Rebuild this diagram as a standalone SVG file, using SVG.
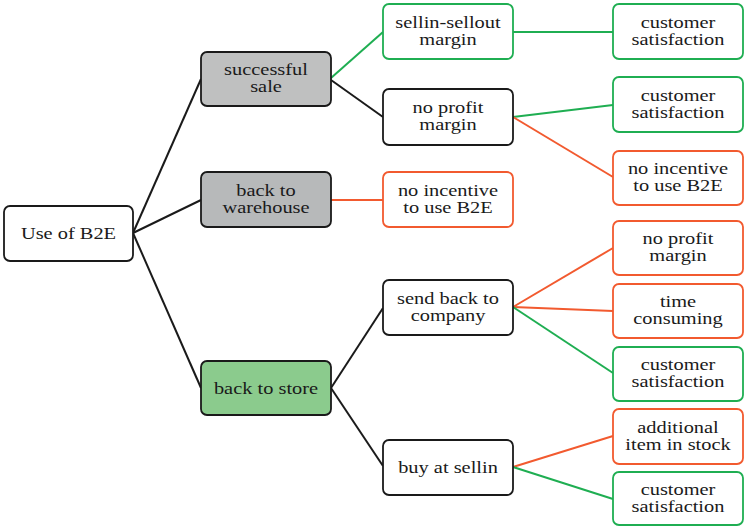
<svg xmlns="http://www.w3.org/2000/svg" width="744" height="526" viewBox="0 0 744 526">
<style>
rect{stroke-width:1.8;}
.k{fill:#fff;stroke:#1a1a1a;}
.g{fill:#fff;stroke:#1fae52;}
.r{fill:#fff;stroke:#f25a2f;}
.s1{fill:#bfc0c0;stroke:#1a1a1a;}
.s2{fill:#b7b9ba;stroke:#1a1a1a;}
.s3{fill:#8bcb8d;stroke:#1a1a1a;}
text{font-size:17px;fill:#1a1a1a;text-anchor:middle;}
#connectors line{stroke-width:2;fill:none;}
.lk{stroke:#1a1a1a;}
.lg{stroke:#1fae52;}
.lr{stroke:#f25a2f;}
</style>
<rect width="744" height="526" fill="#fff"/>
<g id="connectors">
<line class="lk" x1="133" y1="233" x2="201" y2="79"/>
<line class="lk" x1="133" y1="233" x2="201" y2="200"/>
<line class="lk" x1="133" y1="233" x2="201" y2="388"/>
<line class="lg" x1="331" y1="78" x2="383" y2="32"/>
<line class="lk" x1="331" y1="80" x2="383" y2="117"/>
<line class="lr" x1="331" y1="200" x2="383" y2="200"/>
<line class="lk" x1="331" y1="388" x2="383" y2="308"/>
<line class="lk" x1="331" y1="388" x2="383" y2="466"/>
<line class="lg" x1="513" y1="32" x2="613" y2="32"/>
<line class="lg" x1="513" y1="117" x2="613" y2="105"/>
<line class="lr" x1="513" y1="117" x2="613" y2="177"/>
<line class="lr" x1="513" y1="307" x2="613" y2="248"/>
<line class="lr" x1="513" y1="307" x2="613" y2="311"/>
<line class="lg" x1="513" y1="307" x2="613" y2="373"/>
<line class="lr" x1="513" y1="467" x2="613" y2="436"/>
<line class="lg" x1="513" y1="467" x2="613" y2="499"/>
</g>
<g font-family="'Liberation Serif', 'Times New Roman', 'DejaVu Serif', serif">
<g id="root">
<rect class="k" x="4" y="206" width="129" height="55" rx="6"/>
<text transform="translate(68.5,0) scale(1.2 1)"><tspan x="0" y="239.5">Use of B2E</tspan></text>
</g>
<g id="successful-sale">
<rect class="s1" x="201" y="52" width="130" height="54" rx="6"/>
<text transform="translate(266,0) scale(1.2 1)"><tspan x="0" y="75.5">successful</tspan><tspan x="0" y="92.5">sale</tspan></text>
</g>
<g id="back-to-warehouse">
<rect class="s2" x="201" y="172" width="130" height="55" rx="6"/>
<text transform="translate(266,0) scale(1.2 1)"><tspan x="0" y="196">back to</tspan><tspan x="0" y="213">warehouse</tspan></text>
</g>
<g id="back-to-store">
<rect class="s3" x="201" y="361" width="130" height="54" rx="6"/>
<text transform="translate(266,0) scale(1.2 1)"><tspan x="0" y="394">back to store</tspan></text>
</g>
<g id="sellin-sellout-margin">
<rect class="g" x="383" y="4" width="130" height="55" rx="6"/>
<text transform="translate(448,0) scale(1.2 1)"><tspan x="0" y="28">sellin-sellout</tspan><tspan x="0" y="45">margin</tspan></text>
</g>
<g id="no-profit-margin-1">
<rect class="k" x="383" y="89" width="130" height="56" rx="6"/>
<text transform="translate(448,0) scale(1.2 1)"><tspan x="0" y="113.5">no profit</tspan><tspan x="0" y="130.5">margin</tspan></text>
</g>
<g id="no-incentive-1">
<rect class="r" x="383" y="172" width="130" height="55" rx="6"/>
<text transform="translate(448,0) scale(1.2 1)"><tspan x="0" y="196">no incentive</tspan><tspan x="0" y="213">to use B2E</tspan></text>
</g>
<g id="send-back-to-company">
<rect class="k" x="383" y="280" width="130" height="55" rx="6"/>
<text transform="translate(448,0) scale(1.2 1)"><tspan x="0" y="304">send back to</tspan><tspan x="0" y="321">company</tspan></text>
</g>
<g id="buy-at-sellin">
<rect class="k" x="383" y="440" width="130" height="55" rx="6"/>
<text transform="translate(448,0) scale(1.2 1)"><tspan x="0" y="473.5">buy at sellin</tspan></text>
</g>
<g id="customer-satisfaction-1">
<rect class="g" x="613" y="4" width="130" height="55" rx="6"/>
<text transform="translate(678,0) scale(1.2 1)"><tspan x="0" y="28">customer</tspan><tspan x="0" y="45">satisfaction</tspan></text>
</g>
<g id="customer-satisfaction-2">
<rect class="g" x="613" y="77" width="130" height="55" rx="6"/>
<text transform="translate(678,0) scale(1.2 1)"><tspan x="0" y="101">customer</tspan><tspan x="0" y="118">satisfaction</tspan></text>
</g>
<g id="no-incentive-2">
<rect class="r" x="613" y="151" width="130" height="54" rx="6"/>
<text transform="translate(678,0) scale(1.2 1)"><tspan x="0" y="174.5">no incentive</tspan><tspan x="0" y="191.5">to use B2E</tspan></text>
</g>
<g id="no-profit-margin-2">
<rect class="r" x="613" y="221" width="130" height="54" rx="6"/>
<text transform="translate(678,0) scale(1.2 1)"><tspan x="0" y="244.5">no profit</tspan><tspan x="0" y="261.5">margin</tspan></text>
</g>
<g id="time-consuming">
<rect class="r" x="613" y="284" width="130" height="54" rx="6"/>
<text transform="translate(678,0) scale(1.2 1)"><tspan x="0" y="307.5">time</tspan><tspan x="0" y="324.5">consuming</tspan></text>
</g>
<g id="customer-satisfaction-3">
<rect class="g" x="613" y="347" width="130" height="54" rx="6"/>
<text transform="translate(678,0) scale(1.2 1)"><tspan x="0" y="370.5">customer</tspan><tspan x="0" y="387.5">satisfaction</tspan></text>
</g>
<g id="additional-item">
<rect class="r" x="613" y="409" width="130" height="55" rx="6"/>
<text transform="translate(678,0) scale(1.2 1)"><tspan x="0" y="433">additional</tspan><tspan x="0" y="450">item in stock</tspan></text>
</g>
<g id="customer-satisfaction-4">
<rect class="g" x="613" y="472" width="130" height="53" rx="6"/>
<text transform="translate(678,0) scale(1.2 1)"><tspan x="0" y="495">customer</tspan><tspan x="0" y="512">satisfaction</tspan></text>
</g>
</g>
</svg>
